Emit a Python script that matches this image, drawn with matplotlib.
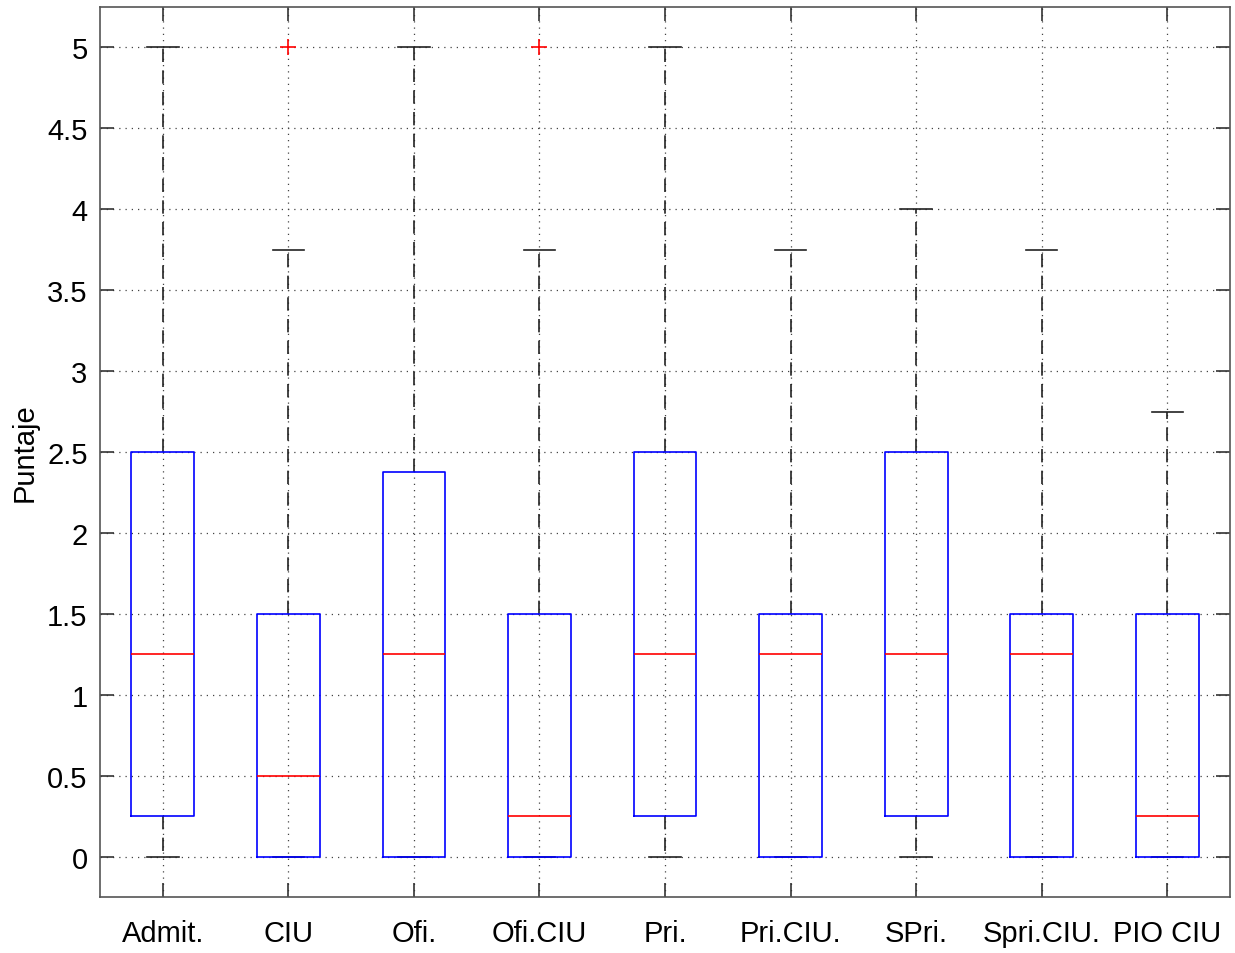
import matplotlib
matplotlib.use("Agg")
from matplotlib import pyplot as plt

plt.rcParams['font.family'] = ['Liberation Sans', 'DejaVu Sans']

labels = ["Admit.", "CIU", "Ofi.", "Ofi.CIU", "Pri.", "Pri.CIU.", "SPri.", "Spri.CIU.", "PIO CIU"]
q1 = [0.25, 0.0, 0.0, 0.0, 0.25, 0.0, 0.25, 0.0, 0.0]
med = [1.25, 0.5, 1.25, 0.25, 1.25, 1.25, 1.25, 1.25, 0.25]
q3 = [2.5, 1.5, 2.375, 1.5, 2.5, 1.5, 2.5, 1.5, 1.5]
wlo = [0.0, 0.0, 0.0, 0.0, 0.0, 0.0, 0.0, 0.0, 0.0]
whi = [5.0, 3.75, 5.0, 3.75, 5.0, 3.75, 4.0, 3.75, 2.75]
outliers = [[], [5.0], [], [5.0], [], [], [], [], []]

stats = []
for i in range(len(labels)):
    stats.append(dict(label=labels[i], q1=q1[i], med=med[i], q3=q3[i],
                      whislo=wlo[i], whishi=whi[i], fliers=outliers[i]))

fig = plt.figure(figsize=(12.35, 9.54), dpi=100)
ax = fig.add_axes([0.081, 0.0587, 0.915, 0.9329])

ax.bxp(stats, widths=0.5, showfliers=True,
       boxprops=dict(color='blue', linewidth=1.2, zorder=3),
       medianprops=dict(color='red', linewidth=1.2, zorder=3.1),
       whiskerprops=dict(color='#222222', linestyle=(0, (8, 5)), linewidth=1.2, zorder=2),
       capprops=dict(color='#222222', linewidth=1.2, zorder=2),
       flierprops=dict(marker='+', markeredgecolor='red', markersize=11, markeredgewidth=1.2),
       capwidths=0.25)

ax.set_xlim(0.5, 9.5)
ax.set_ylim(-0.25, 5.25)
ax.set_yticks([0, 0.5, 1, 1.5, 2, 2.5, 3, 3.5, 4, 4.5, 5])
ax.set_yticklabels(["0", "0.5", "1", "1.5", "2", "2.5", "3", "3.5", "4", "4.5", "5"])
ax.set_ylabel("Puntaje", fontsize=21, labelpad=6)
ax.grid(True, linestyle=(0, (1, 4)), color='#444444', linewidth=0.9)
ax.set_axisbelow(True)
ax.tick_params(direction='in', top=True, right=True, length=10, width=1.2,
               labelsize=21, colors='#333333', labelcolor='black')
ax.tick_params(axis='y', pad=9)
ax.tick_params(axis='x', pad=16)
for s in ax.spines.values():
    s.set_color('#555555')
    s.set_linewidth(1.2)

fig.savefig("out.png", dpi=100)
